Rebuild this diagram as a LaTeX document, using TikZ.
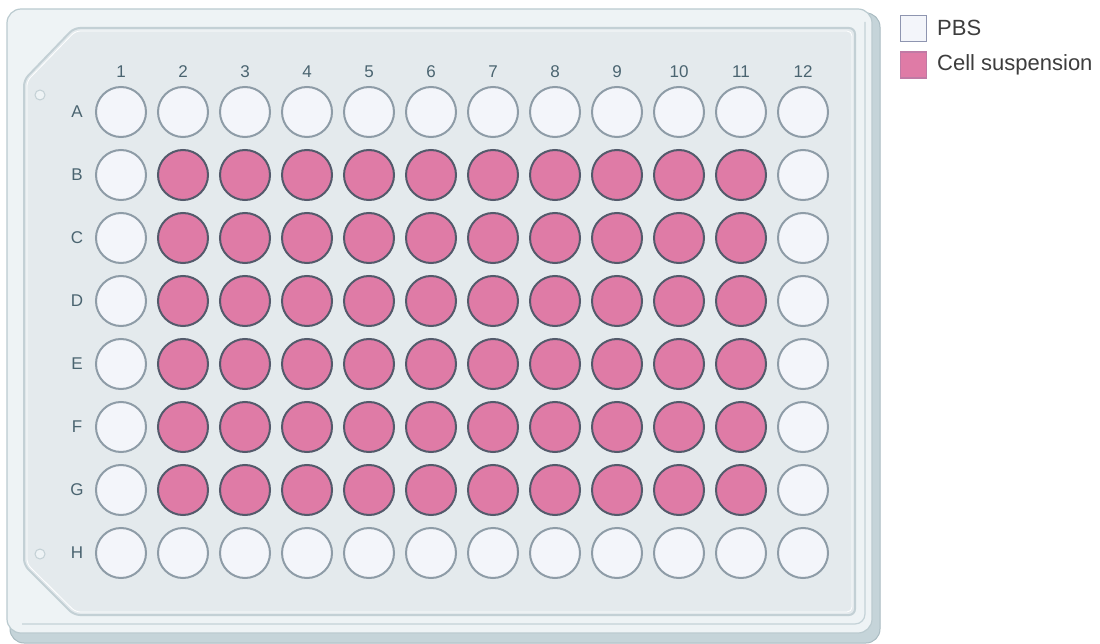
\documentclass[tikz,border=0pt]{standalone}
\usepackage{fontspec}
\setmainfont{Liberation Sans}
\definecolor{shadowc}{HTML}{C5D4D9}
\definecolor{shadowb}{HTML}{A9BBC1}
\definecolor{facec}{HTML}{EEF3F5}
\definecolor{faceb}{HTML}{BACACF}
\definecolor{ridgec}{HTML}{C4D2D7}
\definecolor{panelc}{HTML}{E4EAED}
\definecolor{panelb}{HTML}{C3D0D5}
\definecolor{pbsfill}{HTML}{F3F5FA}
\definecolor{pbsdraw}{HTML}{8E9CA7}
\definecolor{cellfill}{HTML}{DF7BA6}
\definecolor{celldraw}{HTML}{535A6B}
\definecolor{labc}{HTML}{4A6470}
\definecolor{legtextc}{HTML}{3D3D3D}
\definecolor{pbsleg}{HTML}{8E95B0}
\definecolor{cellleg}{HTML}{C07AA5}
\begin{document}
\begin{tikzpicture}[x=1pt,y=-1pt,
  well/.style={circle, minimum size=50pt, inner sep=0pt, line width=2pt},
  collab/.style={text=labc, font=\fontsize{17}{17}\selectfont, inner sep=0pt},
  rowlab/.style={text=labc, font=\fontsize{17}{17}\selectfont, inner sep=0pt},
  legbox/.style={minimum size=26pt, inner sep=0pt, line width=1.8pt},
  legtext/.style={text=legtextc, font=\fontsize{22}{22}\selectfont, anchor=west, inner sep=0pt},
  hole/.style={circle, minimum size=10pt, inner sep=0pt, draw=panelb, fill=facec, line width=1pt}]
\useasboundingbox (0,0) rectangle (1100,644);
% plate body
\filldraw[fill=shadowc, draw=shadowb, line width=1pt, rounded corners=14pt] (10,13) rectangle (880,643);
\filldraw[fill=facec, draw=faceb, line width=1.2pt, rounded corners=14pt] (7,9) rectangle (872,633);
\draw[ridgec, line width=1.2pt, rounded corners=10pt] (865,22) -- (865,624) -- (22,624);
\filldraw[fill=panelc, draw=panelb, line width=2pt, rounded corners=6pt]
  (24,80) -- (74,28) -- (855,28) -- (855,615) -- (74,615) -- (24,565) -- cycle;
\draw[white, line width=0.8pt, rounded corners=5pt]
  (27,81) -- (75.5,31) -- (852,31) -- (852,612) -- (75.5,612) -- (27,564) -- cycle;
\node[hole] (holeA) at (40,95) {};
\node[hole] (holeH) at (40,554) {};
% column labels
\foreach \c in {1,...,12} {
  \node[collab] (col\c) at ({121+62*(\c-1)},72) {\c};
}
% rows and wells
\foreach \r [count=\i] in {A,B,C,D,E,F,G,H} {
  \node[rowlab] (row\r) at (77,{112+63*(\i-1)}) {\r};
  \foreach \c in {1,...,12} {
    \def\wellfill{pbsfill}\def\welldraw{pbsdraw}%
    \ifnum\i>1 \ifnum\i<8 \ifnum\c>1 \ifnum\c<12 \def\wellfill{cellfill}\def\welldraw{celldraw}\fi\fi\fi\fi
    \node[well, fill=\wellfill, draw=\welldraw] (w\r\c) at ({121+62*(\c-1)},{112+63*(\i-1)}) {};
  }
}
% legend
\node[legbox, fill=pbsfill, draw=pbsleg] (kpbs) at (913.5,28.5) {};
\node[legtext] (tpbs) at (937,28) {PBS};
\node[legbox, fill=cellfill, draw=cellleg] (kcell) at (913.5,65) {};
\node[legtext] (tcell) at (937,64.5) {Cell suspension};
\end{tikzpicture}
\end{document}
